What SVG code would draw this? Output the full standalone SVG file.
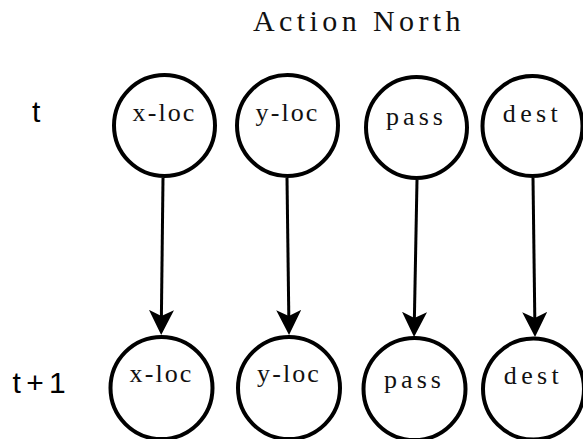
<svg xmlns="http://www.w3.org/2000/svg" width="583" height="439" viewBox="0 0 583 439">
<style>
.node circle{fill:#fff;stroke:#000;stroke-width:4}
.lbl{font-family:"Liberation Serif","Times New Roman",serif;font-size:26px;fill:#111}
.side{font-family:"Liberation Sans",Arial,sans-serif;font-size:30px;fill:#000}
.edge{stroke:#000;stroke-width:3;fill:none;marker-end:url(#ah)}
</style>
<defs>
<marker id="ah" viewBox="0 0 25 25" refX="6" refY="12.5" markerWidth="25" markerHeight="25" markerUnits="userSpaceOnUse" orient="auto">
<path d="M0,0 L25,12.5 L0,25 L6,12.5 Z" fill="#000"/>
</marker>
</defs>
<rect width="583" height="439" fill="#fff"/>
<text x="253" y="31" font-family="Liberation Serif,Times New Roman,serif" font-size="30" letter-spacing="4.4" fill="#111">Action North</text>
<text class="side" x="32" y="122">t</text>
<text class="side" x="12.5" y="393" word-spacing="-3">t + 1</text>
<g id="edges">
<line class="edge" x1="163" y1="178" x2="161.4" y2="316"/>
<line class="edge" x1="287" y1="178" x2="288.8" y2="316"/>
<line class="edge" x1="417" y1="180" x2="414.4" y2="318"/>
<line class="edge" x1="533" y1="178" x2="534.8" y2="318"/>
</g>
<g id="n_xloc_t" class="node"><circle cx="164.5" cy="125.5" r="50.5"/><text class="lbl" x="164.5" y="121" text-anchor="middle" letter-spacing="2.1">x-loc</text></g>
<g id="n_yloc_t" class="node"><circle cx="287.5" cy="125.5" r="50.5"/><text class="lbl" x="287.5" y="121" text-anchor="middle" letter-spacing="2.1">y-loc</text></g>
<g id="n_pass_t" class="node"><circle cx="416.5" cy="127.5" r="50.5"/><text class="lbl" x="416.5" y="125" text-anchor="middle" letter-spacing="4">pass</text></g>
<g id="n_dest_t" class="node"><circle cx="532.5" cy="126" r="50"/><text class="lbl" x="532.5" y="122" text-anchor="middle" letter-spacing="4.4">dest</text></g>
<g id="n_xloc_t1" class="node"><circle cx="161.5" cy="388" r="51"/><text class="lbl" x="161.5" y="382" text-anchor="middle" letter-spacing="2.1">x-loc</text></g>
<g id="n_yloc_t1" class="node"><circle cx="289" cy="388" r="51"/><text class="lbl" x="289" y="382" text-anchor="middle" letter-spacing="2.1">y-loc</text></g>
<g id="n_pass_t1" class="node"><circle cx="414.5" cy="389" r="51"/><text class="lbl" x="414.5" y="388" text-anchor="middle" letter-spacing="4">pass</text></g>
<g id="n_dest_t1" class="node"><circle cx="533.5" cy="389" r="50.5"/><text class="lbl" x="533.5" y="384" text-anchor="middle" letter-spacing="4.4">dest</text></g>
</svg>
